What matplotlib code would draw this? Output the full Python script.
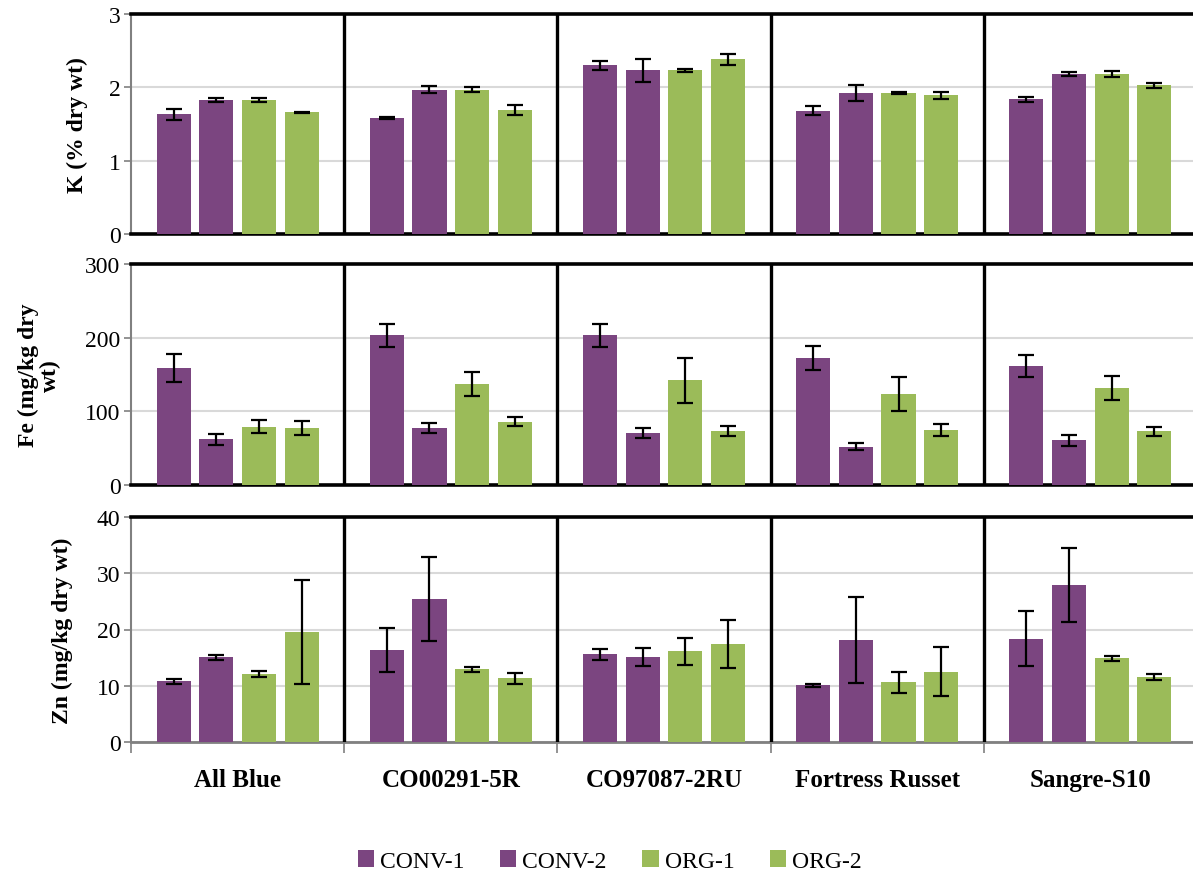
import matplotlib
matplotlib.use("Agg")
import matplotlib.pyplot as plt
from matplotlib.patches import Patch
import numpy as np

cultivars = ["All Blue", "CO00291-5R", "CO97087-2RU", "Fortress Russet", "Sangre-S10"]
series = ["CONV-1", "CONV-2", "ORG-1", "ORG-2"]

# K (% dry wt): rows = series, cols = cultivars
k_vals = [[1.63, 1.58, 2.30, 1.68, 1.84],
          [1.83, 1.97, 2.23, 1.92, 2.18],
          [1.83, 1.97, 2.23, 1.92, 2.18],
          [1.66, 1.69, 2.38, 1.89, 2.03]]
k_err = [[0.08, 0.01, 0.065, 0.06, 0.035],
         [0.03, 0.05, 0.16, 0.11, 0.03],
         [0.03, 0.035, 0.02, 0.01, 0.045],
         [0.01, 0.065, 0.08, 0.05, 0.035]]

fe_vals = [[159, 203, 203, 172, 162],
           [62, 77, 71, 52, 61],
           [79, 137, 142, 123, 132],
           [77, 86, 73, 75, 73]]
fe_err = [[19, 15, 15, 16.5, 15],
          [7.5, 7, 7, 4.5, 7.5],
          [9, 16, 31, 23, 16],
          [9.5, 6, 7, 8, 6]]

zn_vals = [[10.8, 16.3, 15.6, 10.1, 18.4],
           [15.1, 25.4, 15.1, 18.1, 27.9],
           [12.1, 12.9, 16.1, 10.6, 14.9],
           [19.6, 11.3, 17.4, 12.5, 11.6]]
zn_err = [[0.4, 3.9, 1.0, 0.3, 4.9],
          [0.45, 7.5, 1.6, 7.6, 6.6],
          [0.5, 0.45, 2.4, 1.8, 0.45],
          [9.2, 1.0, 4.3, 4.4, 0.5]]

panels = [
    ("K (% dry wt)", k_vals, k_err, [0, 1, 2, 3], 3, -0.040),
    ("Fe (mg/kg dry\nwt)", fe_vals, fe_err, [0, 100, 200, 300], 300, -0.066),
    ("Zn (mg/kg dry wt)", zn_vals, zn_err, [0, 10, 20, 30, 40], 40, -0.054),
]

colors = ["#7B4580", "#7B4580", "#9BBB59", "#9BBB59"]
plt.rcParams["font.family"] = ["Liberation Serif", "DejaVu Serif"]

W, H = 1193, 878
fig = plt.figure(figsize=(W / 100, H / 100), dpi=100)
boxes = [(15, 235), (265, 486), (518, 743)]
x0, x1 = 131, 1197

x = np.arange(len(cultivars))
offsets = [-0.3, -0.1, 0.1, 0.3]
bw = 0.16

for i, (label, vals, errs, ticks, ymax, lx) in enumerate(panels):
    top, bot = boxes[i]
    ax = fig.add_axes([x0 / W, (H - bot) / H, (x1 - x0) / W, (bot - top) / H])
    for j in range(4):
        ax.bar(x + offsets[j], vals[j], bw, color=colors[j], zorder=3,
               edgecolor="none")
        ax.errorbar(x + offsets[j], vals[j], yerr=errs[j], fmt="none",
                    ecolor="black", elinewidth=1.6, capsize=6, capthick=1.6,
                    zorder=4)
    ax.set_xlim(-0.5, 4.5)
    ax.set_ylim(0, ymax)
    ax.set_yticks(ticks)
    ax.yaxis.grid(True, color="#D9D9D9", linewidth=1.5, zorder=0)
    ax.set_axisbelow(True)
    for b in [0.5, 1.5, 2.5, 3.5]:
        ax.axvline(b, color="black", linewidth=2.4, zorder=5)
    ax.spines["top"].set_linewidth(2.6)
    ax.spines["top"].set_color("black")
    ax.spines["right"].set_linewidth(2.4)
    ax.spines["left"].set_color("#808080")
    ax.spines["left"].set_linewidth(1.5)
    ax.tick_params(axis="y", direction="out", length=5, color="#808080",
                   width=1.2, labelsize=17, pad=2.5)
    ax.set_ylabel(label, fontsize=17, fontweight="bold", linespacing=1.0)
    ax.yaxis.set_label_coords(lx, 0.5)
    if i < 2:
        ax.spines["bottom"].set_color("black")
        ax.spines["bottom"].set_linewidth(2.6)
        ax.set_xticks([])
    else:
        ax.spines["bottom"].set_color("#808080")
        ax.spines["bottom"].set_linewidth(2.0)
        ax.set_xticks(x)
        ax.set_xticklabels(cultivars, fontsize=18, fontweight="bold")
        ax.tick_params(axis="x", which="major", length=0, pad=19)
        ax.set_xticks(np.arange(-0.5, 5.0, 1.0), minor=True)
        ax.tick_params(axis="x", which="minor", length=8, color="#808080",
                       width=1.2, direction="out")

handles = [Patch(facecolor=c, edgecolor="none") for c in colors]
fig.legend(handles, series, loc="center", bbox_to_anchor=(0.511, 16 / H),
           ncol=4, frameon=False, fontsize=17, handlelength=0.7,
           handleheight=0.7, handletextpad=0.25, columnspacing=1.5)

fig.savefig("out.png", dpi=100)
